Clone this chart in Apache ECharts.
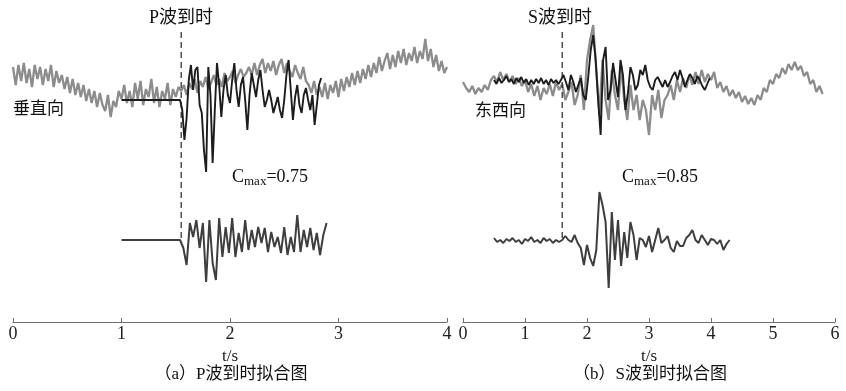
<!DOCTYPE html>
<html><head><meta charset="utf-8">
<script src="https://cdn.jsdelivr.net/npm/echarts@6/dist/echarts.min.js"></script>
<style>html,body{margin:0;padding:0;background:#fff}#c{width:846px;height:391px}</style>
</head><body><div id="c"></div>
<script>
// ---- data (amplitudes relative to each trace's baseline) ----
const ticksP = [0, 1, 2, 3, 4];
const ticksS = [0, 1, 2, 3, 4, 5, 6];
const arrivalP = 1.55;   // s
const arrivalS = 1.6;    // s
const cmaxP = 0.75;
const cmaxS = 0.85;

// (a) vertical component, recorded (gray), t0=0, dt=0.025
const grayP_t0 = 0, grayP_dt = 0.025;
const grayP = [28,10,30,14,32,12,26,8,30,16,28,
 10,26,14,30,8,24,12,
 20,6,18,2,16,0,12,-2,
 10,-6,6,-8,4,-12,2,
 -10,-16,0,-22,-6,-12,4,-4,
 10,-8,4,-12,12,-4,14,-10,6,-2,16,-8,8,-12,4,-4,12,-10,6,-2,8,
 4,10,0,12,6,16,2,14,8,18,6,12,20,10,16,8,22,14,18,24,12,20,26,18,22,28,20,
 32,20,30,36,22,32,24,34,20,30,36,22,32,24,18,30,22,16,28,14,
 10,2,14,0,8,
 -2,12,-4,10,2,14,-2,16,4,
 18,8,22,10,24,12,26,16,30,18,
 32,22,38,24,34,42,26,40,28,44,32,
 46,30,42,34,48,32,44,36,56,34,46,
 28,40,24,34,22,28];
// (a) fitted (black), t0=1.0, dt=0.02
const blackP_t0 = 1.0, blackP_dt = 0.02;
const blackP = [-5,-5,-5,-5,-5,-5,-5,-5,-5,-5,-5,-5,-5,-5,-5,-5,-5,-5,-5,-5,-5,-5,-5,-5,-5,-5,-5,
 -5,-15,-45,-23,15,30,5,25,28,-10,-18,-55,-77,28,0,-68,-15,32,10,-22,5,20,0,-8,15,32,5,-12,10,18,
 -5,-35,0,22,10,-2,15,25,5,-12,-5,5,-5,-18,-10,-2,-15,-23,-5,20,35,5,-25,-2,10,-10,-18,0,7,-5,-15,0,-30,-10,10,17];
// (a) lower trace, t0=1.0, dt=0.03
const lowP_t0 = 1.0, lowP_dt = 0.03;
const lowP = [0,0,0,0,0,0,0,0,0,0,0,0,0,0,0,0,0,0,
 0,-8,-25,17,3,20,-8,17,-42,20,-23,-40,22,-17,13,-13,22,-17,7,-12,20,-10,10,-7,13,-3,12,-12,8,-7,3,-13,13,-15,3,-12,25,-12,10,-7,12,-10,7,-15,5,17];

// (b) east-west component, recorded (gray), t0=0, dt=0.05
const grayS_t0 = 0, grayS_dt = 0.05;
const grayS = [3,-3,-7,-1,-9,-3,-7,0,-5,5,
 9,3,13,5,11,3,9,1,7,-1,
 5,-7,1,-11,-1,-15,-3,-9,1,-11,
 3,-5,1,-15,-7,3,-20,-10,10,-25,
 25,45,60,15,-30,25,-15,-35,15,-10,
 -25,20,-15,-35,0,-25,-10,-35,-15,-25,
 -50,-10,-25,-5,-33,-15,-10,0,-15,5,
 -7,7,-3,10,0,13,1,15,3,11,
 5,13,-3,3,-7,-1,-11,-5,-13,-7,
 -17,-11,-19,-13,-20,-10,-15,-3,-7,5,
 1,11,7,17,11,21,15,23,15,19,
 9,13,1,5,-7,-1,-9];
// (b) fitted (black), t0=0.5, dt=0.04
const blackS_t0 = 0.5, blackS_dt = 0.04;
const blackS = [5,1,7,2,5,9,3,6,1,7,
 3,8,2,6,0,5,1,6,2,7,
 1,5,0,6,2,5,1,5,10,3,
 -5,10,3,-7,0,7,-10,-15,8,35,
 50,25,-15,-50,25,38,-15,-5,22,5,
 -12,25,10,-25,-8,18,10,-5,0,15,
 10,20,5,-2,-5,5,8,3,-2,5,
 -2,3,9,13,5,15,7,-2,5,11,
 7,1,9,5,-1,-5,1,7];
// (b) lower trace, t0=0.5, dt=0.05
const lowS_t0 = 0.5, lowS_dt = 0.05;
const lowS = [3,-1,1,-2,2,0,3,-1,1,-3,2,0,4,-1,1,-2,3,0,2,-2,1,-1,
 1,5,1,-1,6,-2,-7,-24,-4,-17,-25,-9,
 49,36,19,-47,29,-19,21,-25,9,-17,19,6,
 -19,3,1,-6,5,-11,1,13,-2,1,5,-7,
 -11,0,-5,-5,3,6,11,1,-2,6,1,-4,
 2,1,-3,1,-9,-3,1];

// ---- layout constants ----
const AX = 322;           // y-axis range (value 0 at axis line)
const offTopP = 227, offLowP = 82, offTopS = 237, offLowS = 81;
const dashTop = 290, dashBot = 82;

function mk(t0, dt, vals, off) {
  return vals.map((v, i) => [+(t0 + i * dt).toFixed(4), v + off]);
}

const serif = '"Liberation Serif","Noto Sans CJK SC",serif';
const axColor = '#6e6e6e';

function xAxis(idx, max) {
  return {
    gridIndex: idx, type: 'value', min: 0, max: max, interval: 1,
    name: 't/s', nameLocation: 'middle', nameGap: 16,
    nameTextStyle: {fontFamily: serif, fontSize: 17, color: '#222'},
    axisLine: {lineStyle: {color: axColor, width: 1.2}},
    axisTick: {inside: true, length: 4, lineStyle: {color: axColor}},
    axisLabel: {fontFamily: serif, fontSize: 18, color: '#222', margin: 3,
      formatter: v => String(v)},
    splitLine: {show: false}
  };
}
function yAxis(idx) {
  return {gridIndex: idx, type: 'value', min: 0, max: AX, show: false, splitLine: {show: false}};
}
function line(idx, data, color, width, z) {
  return {type: 'line', xAxisIndex: idx, yAxisIndex: idx, data: data, showSymbol: false,
    symbol: 'none', lineStyle: {color: color, width: width}, z: z, silent: true};
}
function dash(idx, t) {
  return {type: 'line', xAxisIndex: idx, yAxisIndex: idx, data: [[t, dashTop], [t, dashBot]],
    symbol: 'none', lineStyle: {color: '#222', width: 1.2, type: [6, 4]}, z: 5, silent: true};
}
function txt(x, y, s, size, align) {
  return {type: 'text', x: x, y: y, style: {text: s, fontFamily: serif, fontSize: size,
    fill: '#111', textAlign: align || 'center', textVerticalAlign: 'middle'}};
}
function cmaxText(x, y, v) {
  return {type: 'text', x: x, y: y, style: {
    text: '{a|C}{b|max}{a|=' + v.toFixed(2) + '}',
    fontFamily: serif, textAlign: 'left', textVerticalAlign: 'middle',
    rich: {a: {fontFamily: serif, fontSize: 18, fill: '#111', lineHeight: 20, verticalAlign: 'top'},
           b: {fontFamily: serif, fontSize: 13, fill: '#111', lineHeight: 20, verticalAlign: 'bottom', padding: [9, 0, 0, 0]}}
  }};
}

const chart = echarts.init(document.getElementById('c'), null, {renderer: 'canvas'});
chart.setOption({
  animation: false,
  backgroundColor: '#fff',
  grid: [
    {left: 13, right: 399, top: 0, bottom: 69},
    {left: 463, right: 11, top: 0, bottom: 69}
  ],
  xAxis: [xAxis(0, ticksP[ticksP.length - 1]), xAxis(1, ticksS[ticksS.length - 1])],
  yAxis: [yAxis(0), yAxis(1)],
  series: [
    line(0, mk(grayP_t0, grayP_dt, grayP, offTopP), '#8c8c8c', 2.3, 2),
    line(0, mk(blackP_t0, blackP_dt, blackP, offTopP), '#1c1c1c', 1.9, 3),
    line(0, mk(lowP_t0, lowP_dt, lowP, offLowP), '#3e3e3e', 2, 3),
    dash(0, arrivalP),
    line(1, mk(grayS_t0, grayS_dt, grayS, offTopS), '#8c8c8c', 2.3, 2),
    line(1, mk(blackS_t0, blackS_dt, blackS, offTopS), '#1c1c1c', 1.9, 3),
    line(1, mk(lowS_t0, lowS_dt, lowS, offLowS), '#3e3e3e', 2, 3),
    dash(1, arrivalS)
  ],
  graphic: [
    txt(181, 18, 'P波到时', 18),
    txt(560, 18, 'S波到时', 18),
    txt(13, 110, '垂直向', 17, 'left'),
    txt(475, 112, '东西向', 17, 'left'),
    cmaxText(232, 178, cmaxP),
    cmaxText(622, 178, cmaxS),
    txt(231, 375, '（a）P波到时拟合图', 17),
    txt(650, 375, '（b）S波到时拟合图', 17)
  ]
});
</script></body></html>
